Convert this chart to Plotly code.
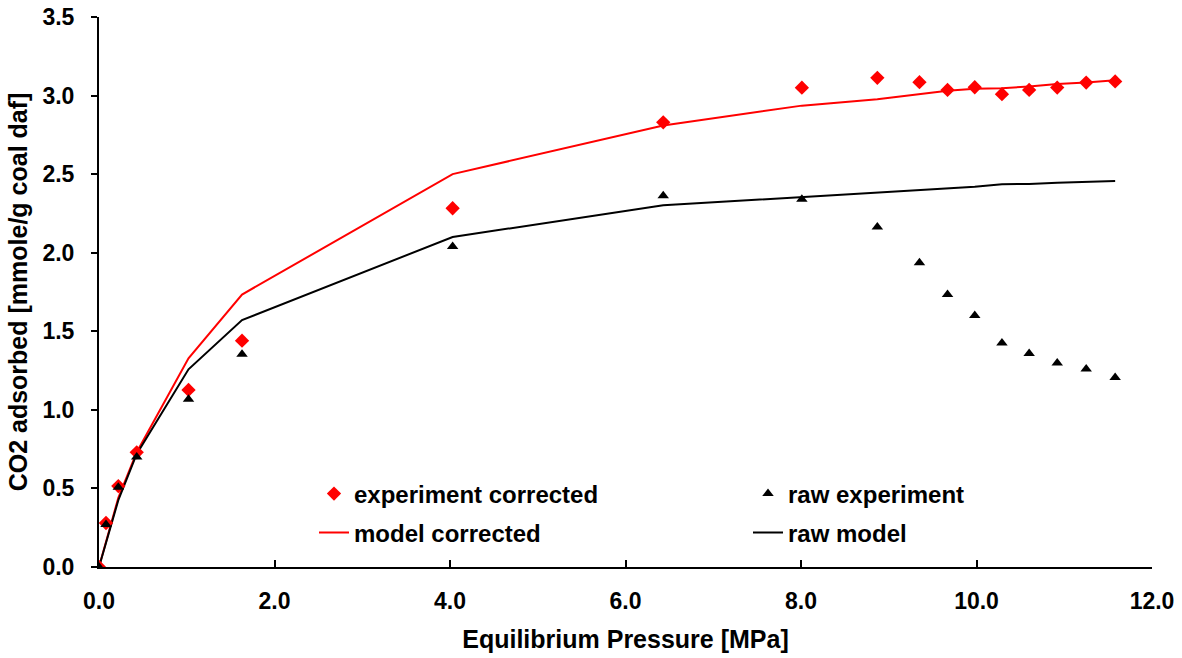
import plotly.graph_objects as go

pressure = [0.0, 0.08, 0.22, 0.43, 1.02, 1.63, 4.03, 6.43, 8.01, 8.87, 9.35, 9.67, 9.98, 10.29, 10.60, 10.92, 11.25, 11.58]
exp_corrected = [0.0, 0.28, 0.515, 0.73, 1.127, 1.44, 2.283, 2.83, 3.05, 3.113, 3.085, 3.036, 3.053, 3.009, 3.036, 3.051, 3.083, 3.09]
raw_experiment = [0.0, 0.27, 0.507, 0.70, 1.067, 1.354, 2.04, 2.362, 2.34, 2.164, 1.936, 1.734, 1.60, 1.426, 1.358, 1.298, 1.26, 1.206]
model_corrected = [0.0, 0.16, 0.44, 0.73, 1.328, 1.734, 2.50, 2.81, 2.936, 2.976, 3.009, 3.03, 3.043, 3.047, 3.058, 3.073, 3.083, 3.098]
raw_model = [0.0, 0.15, 0.425, 0.72, 1.258, 1.571, 2.10, 2.302, 2.355, 2.385, 2.40, 2.41, 2.42, 2.436, 2.437, 2.445, 2.452, 2.457]

x_ticks = [0, 2, 4, 6, 8, 10, 12]
y_ticks = [0, 0.5, 1.0, 1.5, 2.0, 2.5, 3.0, 3.5]

FONT = "Liberation Sans, Arial, sans-serif"

fig = go.Figure()
fig.add_trace(go.Scatter(x=pressure, y=model_corrected, mode="lines", name="model corrected",
                         line=dict(color="#ff0000", width=2), legend="legend3"))
fig.add_trace(go.Scatter(x=pressure, y=raw_model, mode="lines", name="raw model",
                         line=dict(color="#000000", width=2), legend="legend4"))
fig.add_trace(go.Scatter(x=pressure, y=exp_corrected, mode="markers", name="experiment corrected",
                         marker=dict(symbol="diamond", size=11, color="#ff0000"), legend="legend"))
fig.add_trace(go.Scatter(x=pressure, y=raw_experiment, mode="markers", name="raw experiment",
                         marker=dict(symbol="triangle-up", size=10, color="#000000"), legend="legend2"))

L = 99; R = 1152; T = 17; B = 567
W = 1182; H = 658
def px(xp):
    return (xp - L) / (R - L)
def py(yp):
    return (B - yp) / (B - T)

leg_common = dict(font=dict(family=FONT, size=24, color="black", weight="bold"),
                  bgcolor="rgba(0,0,0,0)", xanchor="left", yanchor="middle", borderwidth=0)
fig.update_layout(
    width=W, height=H,
    margin=dict(l=L, r=W - R, t=T, b=H - B, autoexpand=False),
    paper_bgcolor="white", plot_bgcolor="white",
    font=dict(family=FONT, size=24, color="black"),
    showlegend=True,
    legend=dict(x=px(314), y=py(494), **leg_common),
    legend2=dict(x=px(748), y=py(494), **leg_common),
    legend3=dict(x=px(314), y=py(533), **leg_common),
    legend4=dict(x=px(748), y=py(533), **leg_common),
    xaxis=dict(range=[0, 12], tickvals=x_ticks, ticktext=[f"{v:.1f}" for v in x_ticks],
               showgrid=False, zeroline=False, showline=True, linecolor="black", linewidth=2,
               ticks="inside", ticklen=7, tickwidth=2, tickcolor="black", automargin=False,
               tickfont=dict(family=FONT, size=23, color="black", weight="bold"),
               ticklabelstandoff=12,
               title=dict(text="<b>Equilibrium Pressure [MPa]</b>", standoff=18,
                          font=dict(family=FONT, size=25, color="black"))),
    yaxis=dict(range=[0, 3.5], tickvals=y_ticks, ticktext=[f"{v:.1f}" for v in y_ticks],
               showgrid=False, zeroline=False, showline=True, linecolor="black", linewidth=2,
               ticks="outside", ticklen=6, tickwidth=2, tickcolor="black", automargin=False,
               tickfont=dict(family=FONT, size=23, color="black", weight="bold"),
               ticklabelstandoff=12,
               title=dict(text="<b>CO2 adsorbed [mmole/g coal daf]</b>", standoff=8,
                          font=dict(family=FONT, size=25, color="black"))),
)

fig.write_html("out.html")
